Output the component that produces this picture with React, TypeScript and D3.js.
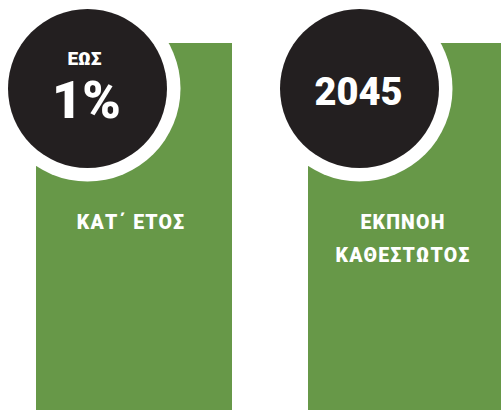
import React from "react";
import * as d3 from "d3";

const panels = ["rate", "year"];
const prefixes = ["ΕΩΣ", ""];
const figures = ["1%", "2045"];
const labels: string[][] = [["ΚΑΤ΄ ΕΤΟΣ"], ["ΕΚΠΝΟΗ", "ΚΑΘΕΣΤΩΤΟΣ"]];

const W = 501;
const H = 410;
const GREEN = "#679848";
const BLACK = "#231f20";
const FONT = "Roboto, 'DejaVu Sans', sans-serif";

export default function App() {
  const x = d3
    .scaleBand<string>()
    .domain(panels)
    .range([36, 504])
    .paddingInner(76 / 272)
    .paddingOuter(0);

  return (
    <svg
      width={W}
      height={H}
      style={{ position: "absolute", left: 0, top: 0, background: "#fff" }}
    >
      {panels.map((p, i) => {
        const x0 = x(p)!;
        const bw = x.bandwidth();
        const cx = x0 + 51.5;
        const cy = 88.5;
        const tx = x0 + bw / 2 - 3;
        const hasPrefix = prefixes[i] !== "";
        return (
          <g key={p}>
            <rect x={x0} y={43} width={bw} height={H - 43} fill={GREEN} />
            <circle cx={cx} cy={cy} r={93} fill="#fff" />
            <circle cx={cx} cy={cy} r={79.5} fill={BLACK} />
            {hasPrefix && (
              <text
                x={cx - 3}
                y={65}
                textAnchor="middle"
                fill="#fff"
                fontFamily={FONT}
                fontWeight={900}
                fontSize={19}
              >
                {prefixes[i]}
              </text>
            )}
            <text
              x={cx - 1}
              y={hasPrefix ? 118 : 105}
              textAnchor="middle"
              fill="#fff"
              fontFamily={FONT}
              fontWeight={900}
              fontSize={hasPrefix ? 52 : 38}
            >
              {figures[i]}
            </text>
            {labels[i].map((l, j) => (
              <text
                key={j}
                x={tx}
                y={229 + j * 33}
                textAnchor="middle"
                fill="#fff"
                fontFamily={FONT}
                fontWeight={900}
                fontSize={19.5}
                letterSpacing={1.2}
              >
                {l}
              </text>
            ))}
          </g>
        );
      })}
    </svg>
  );
}
